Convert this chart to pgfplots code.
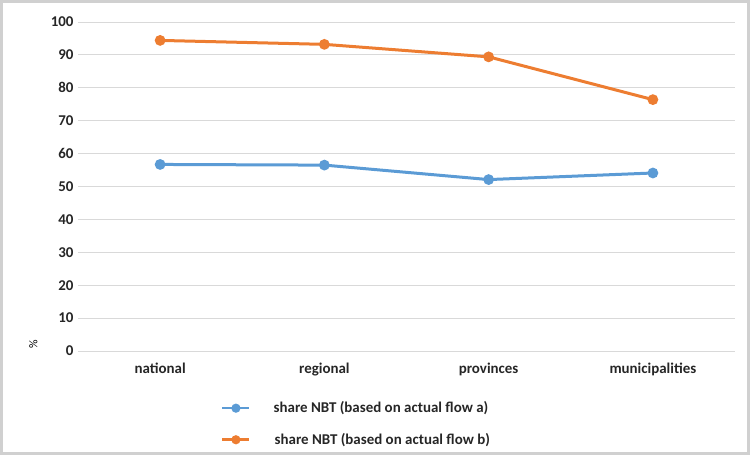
\documentclass[border=0pt]{standalone}
\usepackage{fontspec}
\setmainfont{Carlito}
\usepackage{pgfplots}
\pgfplotsset{compat=1.18}
\definecolor{sblue}{HTML}{5B9BD5}
\definecolor{sorange}{HTML}{ED7D31}
\definecolor{gridc}{HTML}{D9D9D9}
\definecolor{framec}{HTML}{D0D0D0}
\begin{document}
\begin{tikzpicture}[x=1bp,y=1bp]
\useasboundingbox (0,0) rectangle (750,455);
\draw[framec, line width=2.5bp] (1.5,1.5) rectangle (748.5,453.5);
\begin{axis}[
  at={(78bp,104bp)}, anchor=south west,
  scale only axis, width=657bp, height=329bp,
  xmin=-0.5, xmax=3.5, ymin=0, ymax=100,
  xtick={0,1,2,3},
  xticklabels={national,regional,provinces,municipalities},
  ytick={0,10,...,100},
  ymajorgrids, grid style={gridc, line width=0.9bp},
  axis line style={draw=none},
  axis x line*=bottom,
  major tick length=0pt,
  tick label style={font=\fontsize{15}{17}\selectfont\bfseries, text=black!85},
  xticklabel style={yshift=-8bp},
  yticklabel style={xshift=-1bp},
  /pgf/number format/assume math mode=true,
  ylabel={\%},
  ylabel style={at={(axis description cs:-0.068,0.02)}, anchor=center, rotate=0, font=\fontsize{12}{14}\selectfont},
  legend style={at={(axis description cs:0.213,-0.142)}, anchor=north west, draw=none, fill=none,
    font=\fontsize{15}{17}\selectfont\bfseries, text=black!85, row sep=15bp, cells={anchor=west}},
  legend image code/.code={
    \draw[#1, line width=2.6bp] (0bp,0bp) -- (27bp,0bp);
    \fill[#1] (13.5bp,0bp) circle (3bp);
  },
  legend cell align=left,
]
\addplot[sblue, line width=3bp, mark=*, mark size=3.8bp, mark options={solid}] coordinates {(0,56.7) (1,56.5) (2,52.1) (3,54.1)};
\addlegendentry{\hspace{21bp}share NBT (based on actual flow a)}
\addplot[sorange, line width=3bp, mark=*, mark size=3.8bp, mark options={solid}] coordinates {(0,94.4) (1,93.2) (2,89.4) (3,76.4)};
\addlegendentry{\hspace{22bp}share NBT (based on actual flow b)}
\addplot[draw=gridc, line width=0.9bp, forget plot] coordinates {(-0.5,0) (3.5,0)};
\end{axis}
\end{tikzpicture}
\end{document}
